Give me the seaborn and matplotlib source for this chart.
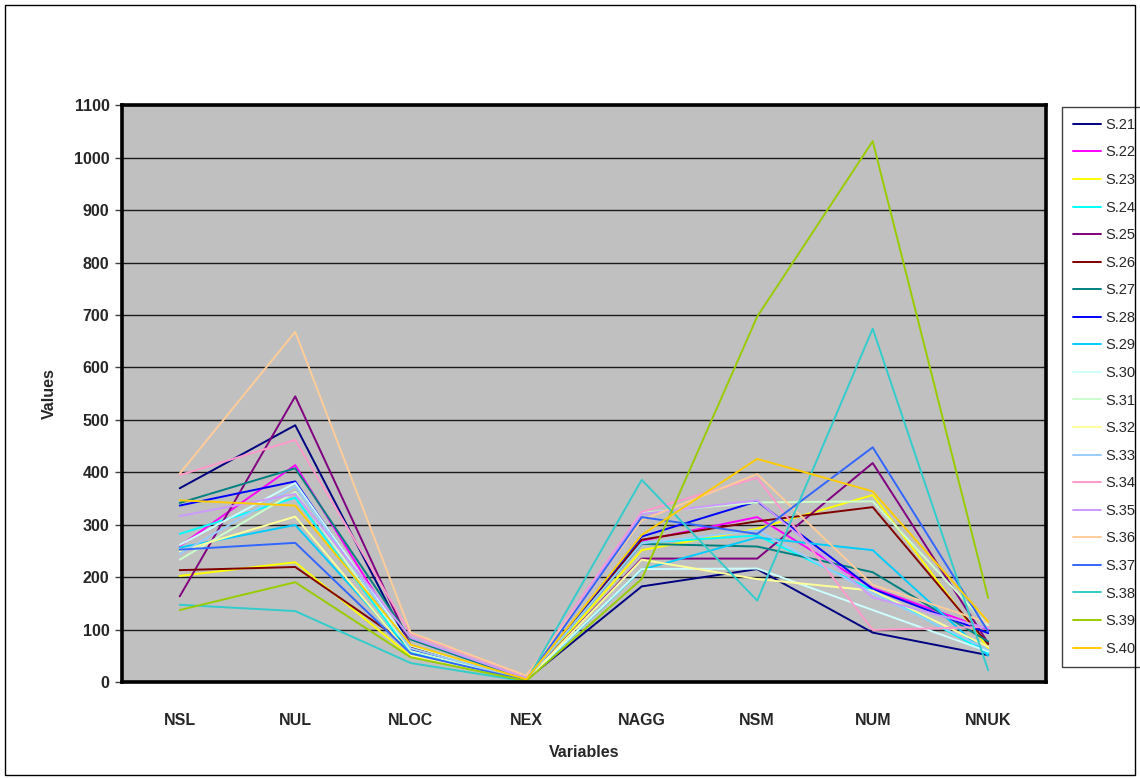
import matplotlib
matplotlib.use("Agg")
import matplotlib.pyplot as plt
from matplotlib.patches import Rectangle
from matplotlib.ticker import MultipleLocator, FixedLocator
import numpy as np
import pandas as pd
import seaborn as sns

# Categories on the x axis
variables = ["NSL", "NUL", "NLOC", "NEX", "NAGG", "NSM", "NUM", "NNUK"]

# One value list per sample, in the order of `variables`
s21 = [370, 490, 65, 5, 183, 216, 95, 52]
s22 = [260, 414, 60, 4, 270, 315, 180, 101]
s23 = [203, 229, 50, 3, 252, 293, 357, 65]
s24 = [283, 352, 55, 4, 266, 280, 176, 56]
s25 = [164, 545, 70, 5, 236, 236, 418, 75]
s26 = [214, 220, 68, 4, 272, 307, 334, 73]
s27 = [342, 408, 82, 6, 264, 259, 210, 78]
s28 = [337, 383, 62, 5, 278, 345, 178, 94]
s29 = [257, 300, 58, 4, 215, 276, 252, 51]
s30 = [262, 380, 70, 5, 216, 217, 138, 59]
s31 = [234, 363, 60, 5, 323, 343, 345, 108]
s32 = [250, 316, 52, 4, 234, 197, 175, 68]
s33 = [245, 374, 65, 5, 265, 290, 170, 62]
s34 = [395, 462, 92, 12, 325, 390, 100, 106]
s35 = [317, 359, 85, 8, 321, 347, 162, 103]
s36 = [398, 668, 95, 13, 309, 397, 186, 114]
s37 = [253, 266, 55, 4, 315, 283, 448, 97]
s38 = [148, 136, 37, 2, 386, 156, 674, 23]
s39 = [138, 191, 48, 3, 197, 697, 1031, 161]
s40 = [347, 337, 72, 6, 281, 426, 364, 116]

series_names = ["S.21", "S.22", "S.23", "S.24", "S.25", "S.26", "S.27", "S.28",
                "S.29", "S.30", "S.31", "S.32", "S.33", "S.34", "S.35", "S.36",
                "S.37", "S.38", "S.39", "S.40"]
series_values = [s21, s22, s23, s24, s25, s26, s27, s28, s29, s30,
                 s31, s32, s33, s34, s35, s36, s37, s38, s39, s40]

line_colors = ["#000080", "#FF00FF", "#FFFF00", "#00FFFF", "#800080",
               "#800000", "#008080", "#0000FF", "#00CCFF", "#CCFFFF",
               "#CCFFCC", "#FFFF99", "#99CCFF", "#FF99CC", "#CC99FF",
               "#FFCC99", "#3366FF", "#33CCCC", "#99CC00", "#FFCC00"]

# Long-form table for seaborn
rows = []
for name, vals in zip(series_names, series_values):
    for var, v in zip(variables, vals):
        rows.append({"Series": name, "Variable": var, "Value": v})
df = pd.DataFrame(rows)

sns.set_style("white")
plt.rcParams["font.family"] = ["Liberation Sans", "DejaVu Sans"]

fig = plt.figure(figsize=(11.4, 7.79), dpi=100)
ax = fig.add_axes([0.107, 0.1239, 0.8105, 0.7413])
ax.set_facecolor("#C0C0C0")

sns.lineplot(data=df, x="Variable", y="Value", hue="Series",
             palette=dict(zip(series_names, line_colors)),
             hue_order=series_names, sort=False, estimator=None,
             linewidth=1.4, ax=ax, legend=True)

ax.set_xlim(-0.5, len(variables) - 0.5)
ax.set_ylim(0, 1100)
ax.yaxis.set_major_locator(MultipleLocator(100))
ax.grid(axis="y", color="#1a1a1a", linewidth=1.0)
ax.grid(axis="x", visible=False)
ax.set_axisbelow(True)

for sp in ax.spines.values():
    sp.set_visible(True)
    sp.set_color("black")
    sp.set_linewidth(2.6)

# Category labels centred, tick marks between categories
ax.xaxis.set_minor_locator(FixedLocator(np.arange(-0.5, len(variables), 1.0)))
ax.tick_params(axis="x", which="major", length=0, pad=22)
ax.tick_params(axis="x", which="minor", length=7, width=1, color="#404040",
               direction="out")
ax.tick_params(axis="y", which="major", length=5, width=1, color="#404040",
               direction="out", left=True, pad=4)
for lab in ax.get_xticklabels():
    lab.set_fontweight("bold")
    lab.set_fontsize(11.5)
for lab in ax.get_yticklabels():
    lab.set_fontweight("bold")
    lab.set_fontsize(11.5)

ax.set_xlabel("Variables", fontsize=11.5, fontweight="bold", labelpad=12)
ax.set_ylabel("Values", fontsize=11.5, fontweight="bold", labelpad=12)

handles, labels = ax.get_legend_handles_labels()
ax.legend(handles, labels, loc="upper left",
          bbox_to_anchor=(1062 / 1140, 1 - 107 / 779),
          bbox_transform=fig.transFigure, frameon=True, fancybox=False,
          edgecolor="#404040", framealpha=1, fontsize=10.5,
          handlelength=1.9, handletextpad=0.3, labelspacing=0.93,
          borderpad=0.75, borderaxespad=0)
leg = ax.get_legend()
leg.get_frame().set_linewidth(1.0)
for ln in leg.get_lines():
    ln.set_linewidth(1.4)

# Thin border around the whole chart
fig.patches.append(Rectangle((5 / 1140, 4 / 779), 1130 / 1140, 770 / 779,
                             transform=fig.transFigure, fill=False,
                             edgecolor="black", linewidth=1.0))

fig.savefig("out.png", dpi=100, facecolor="white")
